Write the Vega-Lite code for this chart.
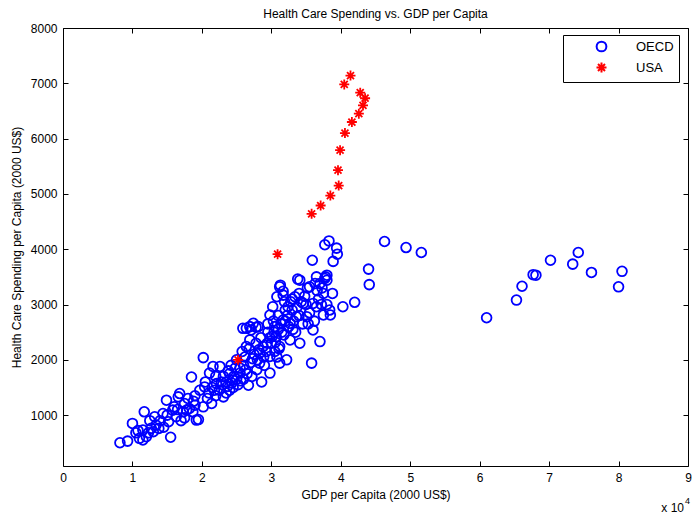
{
  "$schema": "https://vega.github.io/schema/vega-lite/v6.json",
  "width": 625,
  "height": 438,
  "autosize": "none",
  "padding": {"left": 63, "top": 28, "right": 7, "bottom": 49},
  "background": "white",
  "config": {
    "font": "Liberation Sans",
    "view": {"stroke": "black", "strokeWidth": 1},
    "axis": {"grid": false, "domainColor": "black", "tickColor": "black", "labelColor": "black", "titleColor": "black", "labelFontSize": 12, "titleFontSize": 12, "titleFontWeight": "normal", "labelFont": "Liberation Sans", "titleFont": "Liberation Sans"}
  },
  "title": {"text": "Health Care Spending vs. GDP per Capita", "fontSize": 12, "fontWeight": "normal", "font": "Liberation Sans", "color": "black", "offset": 1},
  "datasets": {
    "pts": [
      {"gdp": 8200, "hc": 500, "group": "OECD"}, {"gdp": 9300, "hc": 530, "group": "OECD"}, {"gdp": 10000, "hc": 850, "group": "OECD"}, {"gdp": 10500, "hc": 680, "group": "OECD"}, {"gdp": 11000, "hc": 580, "group": "OECD"}, {"gdp": 11500, "hc": 550, "group": "OECD"}, {"gdp": 11500, "hc": 730, "group": "OECD"}, {"gdp": 12000, "hc": 610, "group": "OECD"}, {"gdp": 11700, "hc": 1060, "group": "OECD"}, {"gdp": 12700, "hc": 760, "group": "OECD"}, {"gdp": 13200, "hc": 970, "group": "OECD"}, {"gdp": 13400, "hc": 820, "group": "OECD"}, {"gdp": 14400, "hc": 1030, "group": "OECD"}, {"gdp": 15500, "hc": 600, "group": "OECD"}, {"gdp": 14900, "hc": 1270, "group": "OECD"}, {"gdp": 15800, "hc": 1090, "group": "OECD"}, {"gdp": 16300, "hc": 970, "group": "OECD"}, {"gdp": 16600, "hc": 1330, "group": "OECD"}, {"gdp": 16800, "hc": 1390, "group": "OECD"}, {"gdp": 17300, "hc": 1060, "group": "OECD"}, {"gdp": 17500, "hc": 1210, "group": "OECD"}, {"gdp": 17800, "hc": 1090, "group": "OECD"}, {"gdp": 18200, "hc": 1120, "group": "OECD"}, {"gdp": 18500, "hc": 1690, "group": "OECD"}, {"gdp": 18700, "hc": 1060, "group": "OECD"}, {"gdp": 19000, "hc": 1180, "group": "OECD"}, {"gdp": 19200, "hc": 910, "group": "OECD"}, {"gdp": 19500, "hc": 920, "group": "OECD"}, {"gdp": 19700, "hc": 1450, "group": "OECD"}, {"gdp": 20200, "hc": 1150, "group": "OECD"}, {"gdp": 20200, "hc": 2040, "group": "OECD"}, {"gdp": 20400, "hc": 1510, "group": "OECD"}, {"gdp": 13000, "hc": 700, "group": "OECD"}, {"gdp": 14000, "hc": 900, "group": "OECD"}, {"gdp": 15000, "hc": 1000, "group": "OECD"}, {"gdp": 16000, "hc": 1150, "group": "OECD"}, {"gdp": 12500, "hc": 900, "group": "OECD"}, {"gdp": 17000, "hc": 900, "group": "OECD"}, {"gdp": 18000, "hc": 1300, "group": "OECD"}, {"gdp": 19000, "hc": 1350, "group": "OECD"}, {"gdp": 14500, "hc": 780, "group": "OECD"}, {"gdp": 15200, "hc": 880, "group": "OECD"}, {"gdp": 16500, "hc": 1100, "group": "OECD"}, {"gdp": 18800, "hc": 1250, "group": "OECD"}, {"gdp": 10800, "hc": 720, "group": "OECD"}, {"gdp": 12300, "hc": 680, "group": "OECD"}, {"gdp": 13800, "hc": 760, "group": "OECD"}, {"gdp": 17500, "hc": 950, "group": "OECD"},
      {"gdp": 20800, "hc": 1300, "group": "OECD"}, {"gdp": 21100, "hc": 1760, "group": "OECD"}, {"gdp": 21400, "hc": 1210, "group": "OECD"}, {"gdp": 21600, "hc": 1880, "group": "OECD"}, {"gdp": 22100, "hc": 1570, "group": "OECD"}, {"gdp": 22600, "hc": 1880, "group": "OECD"}, {"gdp": 23100, "hc": 1330, "group": "OECD"}, {"gdp": 23100, "hc": 1700, "group": "OECD"}, {"gdp": 24000, "hc": 1450, "group": "OECD"}, {"gdp": 24500, "hc": 1630, "group": "OECD"}, {"gdp": 25000, "hc": 2000, "group": "OECD"}, {"gdp": 25500, "hc": 1760, "group": "OECD"}, {"gdp": 26400, "hc": 2240, "group": "OECD"}, {"gdp": 26700, "hc": 1540, "group": "OECD"}, {"gdp": 26900, "hc": 2360, "group": "OECD"}, {"gdp": 25900, "hc": 2570, "group": "OECD"}, {"gdp": 27100, "hc": 2540, "group": "OECD"}, {"gdp": 27400, "hc": 2660, "group": "OECD"}, {"gdp": 27900, "hc": 1820, "group": "OECD"}, {"gdp": 28100, "hc": 2600, "group": "OECD"}, {"gdp": 28300, "hc": 1940, "group": "OECD"}, {"gdp": 28300, "hc": 2120, "group": "OECD"}, {"gdp": 28600, "hc": 1600, "group": "OECD"}, {"gdp": 28800, "hc": 2240, "group": "OECD"}, {"gdp": 29800, "hc": 1760, "group": "OECD"}, {"gdp": 29800, "hc": 2060, "group": "OECD"}, {"gdp": 29800, "hc": 2810, "group": "OECD"}, {"gdp": 26400, "hc": 2570, "group": "OECD"}, {"gdp": 26900, "hc": 2600, "group": "OECD"}, {"gdp": 27800, "hc": 2590, "group": "OECD"}, {"gdp": 21000, "hc": 1400, "group": "OECD"}, {"gdp": 21500, "hc": 1500, "group": "OECD"}, {"gdp": 22000, "hc": 1350, "group": "OECD"}, {"gdp": 22500, "hc": 1450, "group": "OECD"}, {"gdp": 23000, "hc": 1550, "group": "OECD"}, {"gdp": 23500, "hc": 1600, "group": "OECD"}, {"gdp": 24000, "hc": 1750, "group": "OECD"}, {"gdp": 24500, "hc": 1500, "group": "OECD"}, {"gdp": 25000, "hc": 1650, "group": "OECD"}, {"gdp": 25500, "hc": 1850, "group": "OECD"}, {"gdp": 26000, "hc": 1900, "group": "OECD"}, {"gdp": 26500, "hc": 1750, "group": "OECD"}, {"gdp": 27000, "hc": 1950, "group": "OECD"}, {"gdp": 27500, "hc": 2100, "group": "OECD"}, {"gdp": 28000, "hc": 2000, "group": "OECD"}, {"gdp": 22000, "hc": 1700, "group": "OECD"}, {"gdp": 23500, "hc": 1400, "group": "OECD"}, {"gdp": 24200, "hc": 1900, "group": "OECD"}, {"gdp": 25200, "hc": 1550, "group": "OECD"}, {"gdp": 26200, "hc": 2050, "group": "OECD"}, {"gdp": 27200, "hc": 1700, "group": "OECD"}, {"gdp": 20500, "hc": 1600, "group": "OECD"}, {"gdp": 21800, "hc": 1450, "group": "OECD"}, {"gdp": 23800, "hc": 1800, "group": "OECD"}, {"gdp": 24800, "hc": 1850, "group": "OECD"}, {"gdp": 25800, "hc": 2150, "group": "OECD"}, {"gdp": 26800, "hc": 2200, "group": "OECD"}, {"gdp": 27800, "hc": 2300, "group": "OECD"}, {"gdp": 28500, "hc": 2400, "group": "OECD"}, {"gdp": 29000, "hc": 1900, "group": "OECD"}, {"gdp": 29300, "hc": 2150, "group": "OECD"}, {"gdp": 29500, "hc": 2500, "group": "OECD"}, {"gdp": 22800, "hc": 1600, "group": "OECD"}, {"gdp": 24600, "hc": 1700, "group": "OECD"}, {"gdp": 26000, "hc": 1650, "group": "OECD"},
      {"gdp": 23700, "hc": 1520, "group": "OECD"}, {"gdp": 24300, "hc": 1580, "group": "OECD"}, {"gdp": 25600, "hc": 1620, "group": "OECD"}, {"gdp": 26300, "hc": 1820, "group": "OECD"}, {"gdp": 27300, "hc": 2020, "group": "OECD"}, {"gdp": 28200, "hc": 2180, "group": "OECD"}, {"gdp": 28900, "hc": 2050, "group": "OECD"}, {"gdp": 29400, "hc": 2300, "group": "OECD"}, {"gdp": 30100, "hc": 2420, "group": "OECD"}, {"gdp": 30600, "hc": 2320, "group": "OECD"}, {"gdp": 31400, "hc": 2650, "group": "OECD"}, {"gdp": 32300, "hc": 2800, "group": "OECD"}, {"gdp": 33100, "hc": 2550, "group": "OECD"}, {"gdp": 33700, "hc": 2950, "group": "OECD"}, {"gdp": 34300, "hc": 3050, "group": "OECD"}, {"gdp": 35300, "hc": 2650, "group": "OECD"}, {"gdp": 36600, "hc": 3250, "group": "OECD"}, {"gdp": 37200, "hc": 3000, "group": "OECD"},
      {"gdp": 30200, "hc": 2960, "group": "OECD"}, {"gdp": 30800, "hc": 3140, "group": "OECD"}, {"gdp": 30700, "hc": 2420, "group": "OECD"}, {"gdp": 31200, "hc": 3320, "group": "OECD"}, {"gdp": 31200, "hc": 2240, "group": "OECD"}, {"gdp": 31200, "hc": 1940, "group": "OECD"}, {"gdp": 31300, "hc": 3350, "group": "OECD"}, {"gdp": 31700, "hc": 3170, "group": "OECD"}, {"gdp": 31700, "hc": 3240, "group": "OECD"}, {"gdp": 31700, "hc": 2720, "group": "OECD"}, {"gdp": 32200, "hc": 2000, "group": "OECD"}, {"gdp": 32400, "hc": 2960, "group": "OECD"}, {"gdp": 32700, "hc": 2360, "group": "OECD"}, {"gdp": 32700, "hc": 2660, "group": "OECD"}, {"gdp": 33400, "hc": 3140, "group": "OECD"}, {"gdp": 33600, "hc": 2780, "group": "OECD"}, {"gdp": 33800, "hc": 3460, "group": "OECD"}, {"gdp": 34100, "hc": 2300, "group": "OECD"}, {"gdp": 34100, "hc": 3440, "group": "OECD"}, {"gdp": 34600, "hc": 3020, "group": "OECD"}, {"gdp": 35100, "hc": 2780, "group": "OECD"}, {"gdp": 35500, "hc": 3320, "group": "OECD"}, {"gdp": 35900, "hc": 3800, "group": "OECD"}, {"gdp": 35800, "hc": 1940, "group": "OECD"}, {"gdp": 36000, "hc": 2540, "group": "OECD"}, {"gdp": 36000, "hc": 3020, "group": "OECD"}, {"gdp": 36300, "hc": 3380, "group": "OECD"}, {"gdp": 36500, "hc": 2960, "group": "OECD"}, {"gdp": 37000, "hc": 2330, "group": "OECD"}, {"gdp": 37000, "hc": 3380, "group": "OECD"}, {"gdp": 37500, "hc": 3200, "group": "OECD"}, {"gdp": 37500, "hc": 2810, "group": "OECD"}, {"gdp": 37700, "hc": 3470, "group": "OECD"}, {"gdp": 37700, "hc": 4080, "group": "OECD"}, {"gdp": 37800, "hc": 3500, "group": "OECD"}, {"gdp": 38000, "hc": 3440, "group": "OECD"}, {"gdp": 38000, "hc": 3530, "group": "OECD"}, {"gdp": 38300, "hc": 4150, "group": "OECD"}, {"gdp": 38400, "hc": 2900, "group": "OECD"}, {"gdp": 38500, "hc": 2810, "group": "OECD"}, {"gdp": 38900, "hc": 3780, "group": "OECD"}, {"gdp": 39400, "hc": 4020, "group": "OECD"}, {"gdp": 39500, "hc": 3910, "group": "OECD"}, {"gdp": 40300, "hc": 2960, "group": "OECD"}, {"gdp": 42000, "hc": 3040, "group": "OECD"}, {"gdp": 30000, "hc": 2300, "group": "OECD"}, {"gdp": 30500, "hc": 2600, "group": "OECD"}, {"gdp": 31000, "hc": 2800, "group": "OECD"}, {"gdp": 31500, "hc": 2500, "group": "OECD"}, {"gdp": 32000, "hc": 2900, "group": "OECD"}, {"gdp": 32500, "hc": 2600, "group": "OECD"}, {"gdp": 33000, "hc": 2900, "group": "OECD"}, {"gdp": 33500, "hc": 2500, "group": "OECD"}, {"gdp": 34000, "hc": 2800, "group": "OECD"}, {"gdp": 35000, "hc": 3000, "group": "OECD"}, {"gdp": 34500, "hc": 2650, "group": "OECD"}, {"gdp": 33000, "hc": 3100, "group": "OECD"}, {"gdp": 32000, "hc": 2700, "group": "OECD"}, {"gdp": 31000, "hc": 2550, "group": "OECD"}, {"gdp": 30500, "hc": 2150, "group": "OECD"}, {"gdp": 29800, "hc": 2400, "group": "OECD"}, {"gdp": 29500, "hc": 2650, "group": "OECD"}, {"gdp": 30300, "hc": 2700, "group": "OECD"}, {"gdp": 31800, "hc": 2450, "group": "OECD"}, {"gdp": 33200, "hc": 2700, "group": "OECD"}, {"gdp": 34800, "hc": 3150, "group": "OECD"}, {"gdp": 35500, "hc": 2850, "group": "OECD"}, {"gdp": 36200, "hc": 2700, "group": "OECD"}, {"gdp": 36800, "hc": 3100, "group": "OECD"}, {"gdp": 37300, "hc": 3300, "group": "OECD"}, {"gdp": 38000, "hc": 3000, "group": "OECD"}, {"gdp": 38800, "hc": 3200, "group": "OECD"}, {"gdp": 35200, "hc": 3300, "group": "OECD"}, {"gdp": 36500, "hc": 3500, "group": "OECD"}, {"gdp": 34000, "hc": 3200, "group": "OECD"}, {"gdp": 32800, "hc": 3050, "group": "OECD"}, {"gdp": 31900, "hc": 3050, "group": "OECD"}, {"gdp": 31100, "hc": 2200, "group": "OECD"}, {"gdp": 30800, "hc": 2050, "group": "OECD"}, {"gdp": 30400, "hc": 2500, "group": "OECD"},
      {"gdp": 44000, "hc": 3640, "group": "OECD"}, {"gdp": 44100, "hc": 3360, "group": "OECD"}, {"gdp": 46300, "hc": 4140, "group": "OECD"}, {"gdp": 49400, "hc": 4030, "group": "OECD"}, {"gdp": 51600, "hc": 3940, "group": "OECD"}, {"gdp": 61000, "hc": 2760, "group": "OECD"}, {"gdp": 65300, "hc": 3080, "group": "OECD"}, {"gdp": 66100, "hc": 3330, "group": "OECD"}, {"gdp": 67700, "hc": 3540, "group": "OECD"}, {"gdp": 68100, "hc": 3530, "group": "OECD"}, {"gdp": 70200, "hc": 3800, "group": "OECD"}, {"gdp": 73400, "hc": 3730, "group": "OECD"}, {"gdp": 74200, "hc": 3940, "group": "OECD"}, {"gdp": 76100, "hc": 3580, "group": "OECD"}, {"gdp": 80000, "hc": 3320, "group": "OECD"}, {"gdp": 80500, "hc": 3600, "group": "OECD"},
      {"gdp": 25200, "hc": 2000, "group": "USA"}, {"gdp": 30900, "hc": 3910, "group": "USA"}, {"gdp": 35800, "hc": 4640, "group": "USA"}, {"gdp": 37100, "hc": 4790, "group": "USA"}, {"gdp": 38500, "hc": 4970, "group": "USA"}, {"gdp": 39700, "hc": 5150, "group": "USA"}, {"gdp": 39600, "hc": 5430, "group": "USA"}, {"gdp": 39900, "hc": 5790, "group": "USA"}, {"gdp": 40600, "hc": 6100, "group": "USA"}, {"gdp": 41600, "hc": 6300, "group": "USA"}, {"gdp": 42600, "hc": 6450, "group": "USA"}, {"gdp": 43200, "hc": 6600, "group": "USA"}, {"gdp": 43500, "hc": 6730, "group": "USA"}, {"gdp": 42800, "hc": 6830, "group": "USA"}, {"gdp": 40500, "hc": 6980, "group": "USA"}, {"gdp": 41400, "hc": 7140, "group": "USA"}
    ],
    "note": [{"t": "x 10", "p": "4"}]
  },
  "layer": [
    {
      "data": {"name": "pts"},
      "mark": {"type": "point", "filled": false, "strokeWidth": 1.8, "opacity": 1},
      "encoding": {
        "x": {"field": "gdp", "type": "quantitative", "scale": {"domain": [0, 90000], "nice": false, "zero": false},
          "axis": {"title": "GDP per Capita (2000 US$)", "values": [0, 10000, 20000, 30000, 40000, 50000, 60000, 70000, 80000, 90000], "labelExpr": "datum.value / 10000", "tickSize": -5, "labelPadding": 11, "titlePadding": 6, "labelFlush": false, "domain": false}},
        "y": {"field": "hc", "type": "quantitative", "scale": {"domain": [80, 8000], "nice": false, "zero": false},
          "axis": {"title": "Health Care Spending per Capita (2000 US$)", "values": [1000, 2000, 3000, 4000, 5000, 6000, 7000, 8000], "format": "d", "tickSize": -5, "labelPadding": 11, "titlePadding": 7, "labelFlush": false, "domain": false}},
        "color": {"field": "group", "type": "nominal", "scale": {"domain": ["OECD", "USA"], "range": ["#0000FF", "#FF0000"]},
          "legend": {"title": null, "orient": "none", "legendX": 500, "legendY": 7, "strokeColor": "black", "fillColor": "white", "padding": 5, "symbolOffset": 27, "labelOffset": 28, "labelFontSize": 13, "labelColor": "black", "rowPadding": 2, "symbolStrokeWidth": 2, "symbolOpacity": 1, "labelExpr": "datum.label + '     '"}},
        "shape": {"field": "group", "type": "nominal", "scale": {"domain": ["OECD", "USA"], "range": ["circle", "M-1,0L1,0M0,-1L0,1M-0.7,-0.7L0.7,0.7M-0.7,0.7L0.7,-0.7"]}},
        "size": {"field": "group", "type": "nominal", "scale": {"domain": ["OECD", "USA"], "range": [95, 100]}}
      }
    },
    {
      "data": {"name": "note"},
      "mark": {"type": "text", "align": "right", "baseline": "alphabetic", "dx": -4, "dy": 46, "fontSize": 12, "font": "Liberation Sans", "color": "black"},
      "encoding": {
        "x": {"datum": 90000, "type": "quantitative", "axis": {"orient": "top", "values": [0, 10000, 20000, 30000, 40000, 50000, 60000, 70000, 80000, 90000], "labels": false, "title": null, "tickSize": -5, "domain": false}},
        "y": {"datum": 80, "type": "quantitative", "axis": {"orient": "right", "values": [1000, 2000, 3000, 4000, 5000, 6000, 7000, 8000], "labels": false, "title": null, "tickSize": -5, "domain": false}},
        "text": {"field": "t"}
      }
    },
    {
      "data": {"name": "note"},
      "mark": {"type": "text", "align": "left", "baseline": "alphabetic", "dx": -3, "dy": 38, "fontSize": 9, "font": "Liberation Sans", "color": "black"},
      "encoding": {
        "x": {"datum": 90000, "type": "quantitative", "axis": null},
        "y": {"datum": 80, "type": "quantitative", "axis": null},
        "text": {"field": "p"}
      }
    }
  ],
  "resolve": {"axis": {"x": "independent", "y": "independent"}}
}
